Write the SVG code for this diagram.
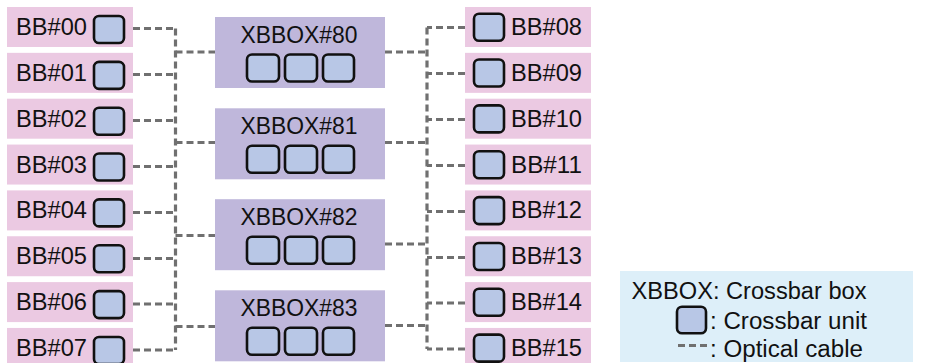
<svg xmlns="http://www.w3.org/2000/svg" width="926" height="363" viewBox="0 0 926 363">
<style>
text{font-family:"Liberation Sans",Arial,sans-serif;font-size:23.5px;fill:#111}
.bb{fill:#EBC9E2}
.xb{fill:#BFB7DB}
.u{fill:#B8C7E6;stroke:#111;stroke-width:2.6}
.c{fill:none;stroke:#707070;stroke-width:3.2;stroke-dasharray:7 4}
</style>
<rect x="0" y="0" width="926" height="363" fill="#fff"/>
<g id="connectors">
<path class="c" d="M133 28.5H175.5M133 74.5H175.5M133 120.5H175.5M133 166.5H175.5M133 212.5H175.5M133 258.5H175.5M133 304H175.5M133 350H175.5"/>
<path class="c" d="M175.5 28.5V350"/>
<path class="c" d="M175.5 52H215M175.5 142.5H215M175.5 235.5H215M175.5 326.5H215"/>
<path class="c" d="M465 27.5H427M465 73.5H427M465 119.5H427M465 165.5H427M465 211.5H427M465 257.5H427M465 303H427M465 349H427"/>
<path class="c" d="M427 27.5V349"/>
<path class="c" d="M385 52H427M385 142.5H427M385 244H427M385 325.5H427"/>
</g>
<g id="BB00"><rect class="bb" x="7" y="7" width="126" height="40"/><text x="16" y="35" textLength="71" lengthAdjust="spacingAndGlyphs">BB#00</text><rect class="u" x="94" y="16" width="30" height="27" rx="5"/></g>
<g id="BB01"><rect class="bb" x="7" y="52.85" width="126" height="40"/><text x="16" y="80.85" textLength="71" lengthAdjust="spacingAndGlyphs">BB#01</text><rect class="u" x="94" y="61.85" width="30" height="27" rx="5"/></g>
<g id="BB02"><rect class="bb" x="7" y="98.7" width="126" height="40"/><text x="16" y="126.7" textLength="71" lengthAdjust="spacingAndGlyphs">BB#02</text><rect class="u" x="94" y="107.7" width="30" height="27" rx="5"/></g>
<g id="BB03"><rect class="bb" x="7" y="144.55" width="126" height="40"/><text x="16" y="172.55" textLength="71" lengthAdjust="spacingAndGlyphs">BB#03</text><rect class="u" x="94" y="153.55" width="30" height="27" rx="5"/></g>
<g id="BB04"><rect class="bb" x="7" y="190.4" width="126" height="40"/><text x="16" y="218.4" textLength="71" lengthAdjust="spacingAndGlyphs">BB#04</text><rect class="u" x="94" y="199.4" width="30" height="27" rx="5"/></g>
<g id="BB05"><rect class="bb" x="7" y="236.25" width="126" height="40"/><text x="16" y="264.25" textLength="71" lengthAdjust="spacingAndGlyphs">BB#05</text><rect class="u" x="94" y="245.25" width="30" height="27" rx="5"/></g>
<g id="BB06"><rect class="bb" x="7" y="282.1" width="126" height="40"/><text x="16" y="310.1" textLength="71" lengthAdjust="spacingAndGlyphs">BB#06</text><rect class="u" x="94" y="291.1" width="30" height="27" rx="5"/></g>
<g id="BB07"><rect class="bb" x="7" y="327.95" width="126" height="40"/><text x="16" y="355.95" textLength="71" lengthAdjust="spacingAndGlyphs">BB#07</text><rect class="u" x="94" y="336.95" width="30" height="27" rx="5"/></g>
<g id="BB08"><rect class="bb" x="465" y="7" width="126" height="40"/><rect class="u" x="474" y="13.7" width="30" height="27" rx="5"/><text x="511" y="35" textLength="71" lengthAdjust="spacingAndGlyphs">BB#08</text></g>
<g id="BB09"><rect class="bb" x="465" y="52.85" width="126" height="40"/><rect class="u" x="474" y="59.55" width="30" height="27" rx="5"/><text x="511" y="80.85" textLength="71" lengthAdjust="spacingAndGlyphs">BB#09</text></g>
<g id="BB10"><rect class="bb" x="465" y="98.7" width="126" height="40"/><rect class="u" x="474" y="105.4" width="30" height="27" rx="5"/><text x="511" y="126.7" textLength="71" lengthAdjust="spacingAndGlyphs">BB#10</text></g>
<g id="BB11"><rect class="bb" x="465" y="144.55" width="126" height="40"/><rect class="u" x="474" y="151.25" width="30" height="27" rx="5"/><text x="511" y="172.55" textLength="71" lengthAdjust="spacingAndGlyphs">BB#11</text></g>
<g id="BB12"><rect class="bb" x="465" y="190.4" width="126" height="40"/><rect class="u" x="474" y="197.1" width="30" height="27" rx="5"/><text x="511" y="218.4" textLength="71" lengthAdjust="spacingAndGlyphs">BB#12</text></g>
<g id="BB13"><rect class="bb" x="465" y="236.25" width="126" height="40"/><rect class="u" x="474" y="242.95" width="30" height="27" rx="5"/><text x="511" y="264.25" textLength="71" lengthAdjust="spacingAndGlyphs">BB#13</text></g>
<g id="BB14"><rect class="bb" x="465" y="282.1" width="126" height="40"/><rect class="u" x="474" y="288.8" width="30" height="27" rx="5"/><text x="511" y="310.1" textLength="71" lengthAdjust="spacingAndGlyphs">BB#14</text></g>
<g id="BB15"><rect class="bb" x="465" y="327.95" width="126" height="40"/><rect class="u" x="474" y="334.65" width="30" height="27" rx="5"/><text x="511" y="355.95" textLength="71" lengthAdjust="spacingAndGlyphs">BB#15</text></g>
<g id="XBBOX80"><rect class="xb" x="215" y="17" width="170" height="71"/><text x="299" y="42.5" text-anchor="middle" textLength="117" lengthAdjust="spacingAndGlyphs">XBBOX#80</text><rect class="u" x="247" y="54.5" width="32" height="27" rx="5"/><rect class="u" x="285" y="54.5" width="32" height="27" rx="5"/><rect class="u" x="323" y="54.5" width="31" height="27" rx="5"/></g>
<g id="XBBOX81"><rect class="xb" x="215" y="108.3" width="170" height="71"/><text x="299" y="133.8" text-anchor="middle" textLength="117" lengthAdjust="spacingAndGlyphs">XBBOX#81</text><rect class="u" x="247" y="145.8" width="32" height="27" rx="5"/><rect class="u" x="285" y="145.8" width="32" height="27" rx="5"/><rect class="u" x="323" y="145.8" width="31" height="27" rx="5"/></g>
<g id="XBBOX82"><rect class="xb" x="215" y="199.2" width="170" height="71"/><text x="299" y="224.7" text-anchor="middle" textLength="117" lengthAdjust="spacingAndGlyphs">XBBOX#82</text><rect class="u" x="247" y="236.7" width="32" height="27" rx="5"/><rect class="u" x="285" y="236.7" width="32" height="27" rx="5"/><rect class="u" x="323" y="236.7" width="31" height="27" rx="5"/></g>
<g id="XBBOX83"><rect class="xb" x="215" y="290.3" width="170" height="71"/><text x="299" y="315.8" text-anchor="middle" textLength="117" lengthAdjust="spacingAndGlyphs">XBBOX#83</text><rect class="u" x="247" y="327.8" width="32" height="27" rx="5"/><rect class="u" x="285" y="327.8" width="32" height="27" rx="5"/><rect class="u" x="323" y="327.8" width="31" height="27" rx="5"/></g>
<g id="legend">
<rect x="620" y="271" width="293" height="91" fill="#DDEFF9"/>
<text x="631.5" y="298.5" textLength="235" lengthAdjust="spacingAndGlyphs">XBBOX: Crossbar box</text>
<rect class="u" x="677" y="306.7" width="29" height="26.6" rx="5"/>
<text x="710" y="328.5" textLength="157" lengthAdjust="spacingAndGlyphs">: Crossbar unit</text>
<path class="c" d="M678 345.5H707"/>
<text x="710" y="357" textLength="153" lengthAdjust="spacingAndGlyphs">: Optical cable</text>
</g>
</svg>
